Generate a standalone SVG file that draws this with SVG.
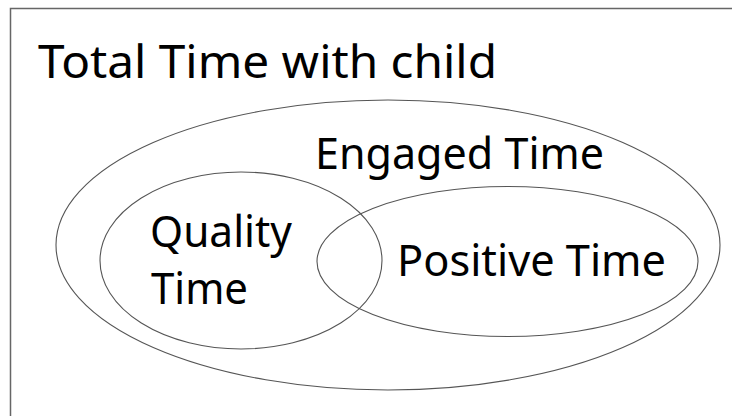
<svg xmlns="http://www.w3.org/2000/svg" width="732" height="416" viewBox="0 0 732 416">
<style>
.e{fill:none;stroke:#555;stroke-width:1.1}
.t{font-family:"Noto Sans","Liberation Sans",sans-serif;fill:#000}
</style>
<rect width="732" height="416" fill="#fff"/>
<path d="M10.5 416V8.5H732" fill="none" stroke="#666" stroke-width="1.5"/>
<g id="title"><text class="t" x="38" y="78" font-size="46" textLength="459" lengthAdjust="spacingAndGlyphs">Total Time with child</text></g>
<g id="engaged">
<ellipse class="e" cx="388" cy="245" rx="332" ry="145"/>
<text class="t" x="315" y="169" font-size="44" textLength="289" lengthAdjust="spacingAndGlyphs">Engaged Time</text>
</g>
<g id="quality">
<ellipse class="e" cx="241" cy="260.5" rx="141" ry="88.5"/>
<text class="t" x="150" y="247" font-size="44" textLength="142" lengthAdjust="spacingAndGlyphs">Quality</text>
<text class="t" x="151" y="304" font-size="44" textLength="97" lengthAdjust="spacingAndGlyphs">Time</text>
</g>
<g id="positive">
<ellipse class="e" cx="507.5" cy="261.5" rx="190.5" ry="75"/>
<text class="t" x="397" y="276" font-size="44" textLength="269" lengthAdjust="spacingAndGlyphs">Positive Time</text>
</g>
<g id="connectors"></g>
</svg>
